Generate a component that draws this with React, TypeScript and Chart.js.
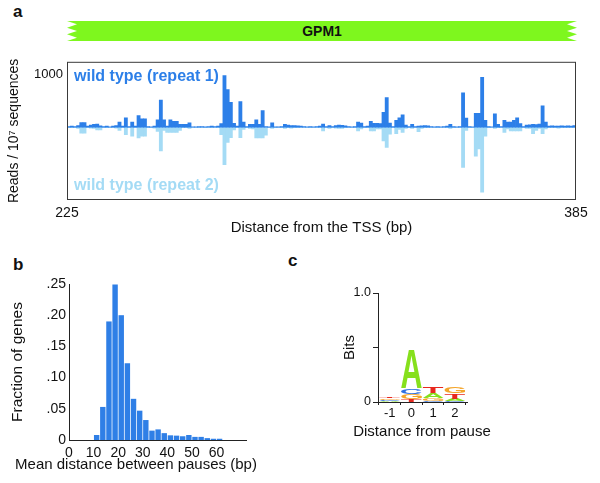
import React, { useEffect, useRef } from "react";
import { Chart, registerables } from "chart.js";
Chart.register(...registerables);

const FONT = "'Liberation Sans', Arial, Helvetica, sans-serif";
const DARK_BLUE = "#2c7fe8";
const LIGHT_BLUE = "#a4dbf5";
const TEXT = "#111111";

// ---------- Panel a: reads per position (225..384) ----------
const tssRange = [225, 385];
const tssTickLabels = [225, 385];
const yATicks = [1000];
const repeat1 = [
  15, 20, 15, 30, 90, 90, 20, 40, 55, 60, 25, 15, 20, 10, 20, 30, 100, 20, 180, 15,
  100, 20, 220, 160, 160, 15, 10, 20, 140, 515, 140, 20, 140, 110, 110, 55, 55, 55, 85, 10,
  10, 15, 15, 10, 15, 20, 15, 20, 70, 980, 715, 470, 75, 20, 485, 100, 15, 55, 55, 140,
  55, 315, 15, 10, 85, 10, 10, 15, 55, 40, 30, 30, 25, 20, 15, 10, 15, 10, 15, 20,
  60, 15, 30, 15, 30, 40, 35, 25, 15, 10, 15, 100, 80, 15, 20, 110, 75, 75, 70, 285,
  560, 80, 15, 130, 180, 235, 40, 15, 55, 15, 20, 25, 30, 25, 15, 10, 15, 10, 15, 20,
  55, 15, 10, 15, 650, 175, 15, 10, 265, 265, 945, 130, 15, 10, 255, 55, 15, 130, 100, 100,
  130, 180, 70, 15, 40, 45, 55, 50, 60, 405, 100, 20, 25, 20, 20, 25, 20, 25, 20, 30,
];
const repeat2 = [
  10, 10, 10, 20, 110, 110, 10, 15, 20, 50, 50, 10, 10, 5, 10, 15, 60, 10, 140, 10,
  170, 10, 200, 170, 170, 10, 10, 15, 80, 450, 60, 100, 100, 100, 100, 60, 10, 10, 20, 5,
  5, 10, 5, 10, 5, 10, 5, 10, 140, 710, 285, 195, 50, 10, 195, 40, 10, 20, 30, 200,
  200, 200, 150, 10, 20, 10, 5, 10, 20, 10, 15, 10, 10, 5, 5, 5, 10, 5, 5, 10,
  70, 10, 20, 10, 15, 20, 20, 10, 5, 5, 10, 70, 30, 10, 10, 70, 70, 30, 30, 260,
  380, 130, 10, 120, 40, 100, 20, 10, 20, 10, 85, 20, 10, 10, 5, 5, 10, 5, 5, 10,
  20, 10, 5, 10, 760, 60, 10, 10, 550, 410, 1230, 170, 10, 5, 20, 10, 10, 100, 30, 70,
  70, 70, 70, 10, 20, 20, 120, 60, 20, 120, 30, 10, 10, 10, 15, 10, 10, 10, 10, 10,
];
const positions: number[] = [];
for (let p = tssRange[0]; p < tssRange[1]; p++) positions.push(p);

// ---------- Panel b: histogram ----------
const binStarts = [10, 12.5, 15, 17.5, 20, 22.5, 25, 27.5, 30, 32.5, 35, 37.5, 40, 42.5, 45, 47.5, 50, 52.5, 55, 57.5, 60];
const binWidth = 2.5;
const fractionOfGenes = [0.008, 0.053, 0.19, 0.249, 0.2, 0.123, 0.066, 0.047, 0.032, 0.015, 0.017, 0.011, 0.0075, 0.007, 0.006, 0.008, 0.005, 0.005, 0.003, 0.002, 0.002];
const histXTicks = [0, 10, 20, 30, 40, 50, 60];
const histYTicks = [0, 0.05, 0.1, 0.15, 0.2, 0.25];
const histYLabels = ["0", ".05", ".10", ".15", ".20", ".25"];

// ---------- Panel c: sequence logo ----------
const logoPositions = [-1, 0, 1, 2];
const logoLetters = ["A", "C", "G", "T"];
const logoColors = ["#86e01c", "#2d6fe0", "#f4a52a", "#e8281e"];
const bitsA = [0.01, 0.36, 0.046, 0.02];
const bitsC = [0.012, 0.052, 0.012, 0.012];
const bitsG = [0.012, 0.046, 0.025, 0.059];
const bitsT = [0.012, 0.028, 0.061, 0.05];
const logoYTicks = [0, 0.5, 1];
const logoYLabels = ["0", "", "1.0"];

const framePlugin = {
  id: "frame",
  afterDraw(chart: any) {
    const { ctx, chartArea: a } = chart;
    ctx.save();
    ctx.strokeStyle = "#3a3a3a";
    ctx.lineWidth = 1;
    ctx.strokeRect(a.left + 0.5, a.top + 0.5, a.right - a.left - 1, a.bottom - a.top - 1);
    ctx.restore();
  },
};

const seriesLabelPlugin = {
  id: "seriesLabels",
  afterDatasetsDraw(chart: any) {
    const { ctx, chartArea: a } = chart;
    ctx.save();
    ctx.font = `bold 16px ${FONT}`;
    ctx.textBaseline = "middle";
    ctx.textAlign = "left";
    ctx.fillStyle = DARK_BLUE;
    ctx.fillText(chart.data.datasets[0].label, a.left + 7, a.top + 15);
    ctx.fillStyle = LIGHT_BLUE;
    ctx.fillText(chart.data.datasets[1].label, a.left + 7, a.bottom - 14);
    ctx.restore();
  },
};

function drawLetter(ctx: CanvasRenderingContext2D, L: string, x: number, yBottom: number, w: number, h: number, color: string) {
  if (h <= 0.2) return;
  ctx.save();
  ctx.font = `bold 100px ${FONT}`;
  const m = ctx.measureText(L);
  const gw = m.actualBoundingBoxLeft + m.actualBoundingBoxRight;
  const gh = m.actualBoundingBoxAscent + m.actualBoundingBoxDescent;
  ctx.translate(x, yBottom);
  ctx.scale(w / gw, h / gh);
  ctx.fillStyle = color;
  ctx.textBaseline = "alphabetic";
  ctx.textAlign = "left";
  ctx.fillText(L, m.actualBoundingBoxLeft, -m.actualBoundingBoxDescent);
  ctx.restore();
}

const logoPlugin = {
  id: "logo",
  afterDatasetsDraw(chart: any) {
    const { ctx } = chart;
    const xs = chart.scales.x;
    const ys = chart.scales.y;
    const ds = chart.data.datasets;
    logoPositions.forEach((p, i) => {
      const stack = ds
        .map((d: any, k: number) => ({ L: logoLetters[k], h: d.data[i].y, color: logoColors[k] }))
        .sort((a: any, b: any) => a.h - b.h);
      const cx = xs.getPixelForValue(p);
      const w = (xs.getPixelForValue(p + 0.5) - xs.getPixelForValue(p - 0.5)) * 0.95;
      let base = 0;
      stack.forEach((s: any) => {
        const y0 = ys.getPixelForValue(base);
        const y1 = ys.getPixelForValue(base + s.h);
        drawLetter(ctx, s.L, cx - w / 2, y0, w, y0 - y1, s.color);
        base += s.h;
      });
    });
  },
};

const noPlugins = { legend: { display: false }, tooltip: { enabled: false } };

function configA(): any {
  return {
    type: "bar",
    data: {
      datasets: [
        {
          label: "wild type (repeat 1)",
          data: positions.map((p, i) => ({ x: p + 0.5, y: repeat1[i] })),
          backgroundColor: DARK_BLUE,
          grouped: false,
          barPercentage: 1,
          categoryPercentage: 1,
          borderWidth: 0,
        },
        {
          label: "wild type (repeat 2)",
          data: positions.map((p, i) => ({ x: p + 0.5, y: -repeat2[i] })),
          backgroundColor: LIGHT_BLUE,
          grouped: false,
          barPercentage: 1,
          categoryPercentage: 1,
          borderWidth: 0,
        },
      ],
    },
    options: {
      responsive: false,
      animation: false,
      layout: { padding: { top: 6, right: 24, left: 0, bottom: 0 } },
      plugins: noPlugins,
      scales: {
        x: {
          type: "linear",
          offset: false,
          min: tssRange[0],
          max: tssRange[1],
          afterFit(s: any) { s.height = 40; },
          afterBuildTicks(s: any) { s.ticks = tssTickLabels.map((v) => ({ value: v })); },
          grid: { display: false, drawTicks: false },
          border: { display: false },
          ticks: { font: { family: FONT, size: 14 }, color: TEXT, padding: 5, maxRotation: 0, autoSkip: false, callback: (v: number) => String(v) },
          title: { display: true, text: "Distance from the TSS (bp)", font: { family: FONT, size: 15 }, color: TEXT, padding: { top: 0, bottom: 3 } },
        },
        y: {
          min: -1378,
          max: 1240,
          afterFit(s: any) { s.width = 67; },
          afterBuildTicks(s: any) { s.ticks = yATicks.map((v) => ({ value: v })); },
          grid: { display: false, drawTicks: false },
          border: { display: false },
          ticks: { font: { family: FONT, size: 13 }, color: TEXT, padding: 4, callback: (v: number) => String(v) },
          title: { display: true, text: "Reads / 10\u2077 sequences", font: { family: FONT, size: 14 }, color: TEXT, padding: { top: 6, bottom: 0 } },
        },
      },
    },
    plugins: [framePlugin, seriesLabelPlugin],
  };
}

function configB(): any {
  return {
    type: "bar",
    data: {
      datasets: [
        {
          data: binStarts.map((b, i) => ({ x: b + binWidth / 2, y: fractionOfGenes[i] })),
          backgroundColor: "#2f7fe6",
          barPercentage: 0.88,
          categoryPercentage: 1,
          borderWidth: 0,
        },
      ],
    },
    options: {
      responsive: false,
      animation: false,
      layout: { padding: { top: 34, right: 54, left: 0, bottom: 0 } },
      plugins: noPlugins,
      scales: {
        x: {
          type: "linear",
          offset: false,
          min: 0,
          max: 72,
          afterFit(s: any) { s.height = 43; },
          afterBuildTicks(s: any) { s.ticks = histXTicks.map((v) => ({ value: v })); },
          grid: { display: false, drawTicks: false },
          border: { display: true, color: "#222", width: 1 },
          ticks: { font: { family: FONT, size: 14 }, color: TEXT, padding: 5, maxRotation: 0, autoSkip: false },
        },
        y: {
          min: 0,
          max: 0.25,
          afterFit(s: any) { s.width = 69; },
          afterBuildTicks(s: any) { s.ticks = histYTicks.map((v) => ({ value: v })); },
          grid: { display: false, drawTicks: false },
          border: { display: true, color: "#222", width: 1 },
          ticks: {
            font: { family: FONT, size: 14 },
            color: TEXT,
            padding: 3,
            callback: (v: number) => {
              const i = histYTicks.findIndex((t) => Math.abs(t - v) < 1e-9);
              return i >= 0 ? histYLabels[i] : "";
            },
          },
          title: { display: true, text: "Fraction of genes", font: { family: FONT, size: 15.5 }, color: TEXT, padding: { top: 8, bottom: 0 } },
        },
      },
    },
  };
}

function configC(): any {
  const sets = [bitsA, bitsC, bitsG, bitsT];
  return {
    type: "bar",
    data: {
      datasets: sets.map((arr, k) => ({
        label: logoLetters[k],
        data: logoPositions.map((p, i) => ({ x: p, y: arr[i] })),
        backgroundColor: "rgba(0,0,0,0)",
        borderWidth: 0,
      })),
    },
    options: {
      responsive: false,
      animation: false,
      layout: { padding: { top: 43, right: 23, left: 0, bottom: 0 } },
      plugins: noPlugins,
      scales: {
        x: {
          type: "linear",
          offset: false,
          min: -1.54,
          max: 2.56,
          afterFit(s: any) { s.height = 48; },
          afterBuildTicks(s: any) { s.ticks = logoPositions.map((v) => ({ value: v })); },
          grid: { display: true, drawOnChartArea: false, drawTicks: true, tickLength: 3, color: "#222" },
          border: { display: true, color: "#222", width: 1 },
          ticks: { font: { family: FONT, size: 13 }, color: TEXT, padding: 1, maxRotation: 0, autoSkip: false },
        },
        y: {
          min: 0,
          max: 1,
          afterFit(s: any) { s.width = 48; },
          afterBuildTicks(s: any) { s.ticks = logoYTicks.map((v) => ({ value: v })); },
          grid: { display: true, drawOnChartArea: false, drawTicks: true, tickLength: 5, color: "#222" },
          border: { display: true, color: "#222", width: 1 },
          ticks: {
            font: { family: FONT, size: 12.5 },
            color: TEXT,
            padding: 2,
            callback: (v: number) => {
              const i = logoYTicks.findIndex((t) => Math.abs(t - v) < 1e-9);
              return i >= 0 ? logoYLabels[i] : "";
            },
          },
          title: { display: true, text: "Bits", font: { family: FONT, size: 15 }, color: TEXT, padding: { top: 11, bottom: 0 } },
        },
      },
    },
    plugins: [logoPlugin],
  };
}

const abs = (left: number, top: number, extra: any = {}) => ({ position: "absolute" as const, left, top, ...extra });

export default function App() {
  const refA = useRef<HTMLCanvasElement>(null);
  const refB = useRef<HTMLCanvasElement>(null);
  const refC = useRef<HTMLCanvasElement>(null);

  useEffect(() => {
    const charts = [
      new Chart(refA.current!, configA()),
      new Chart(refB.current!, configB()),
      new Chart(refC.current!, configC()),
    ];
    return () => charts.forEach((c) => c.destroy());
  }, []);

  const panelLabel = { font: `bold 17px ${FONT}`, lineHeight: "17px", color: TEXT };
  const bandTop = 21;
  const bandBot = 41;
  const bl = 67;
  const br = 577;
  const d = 10;
  const h3 = (bandBot - bandTop) / 3;
  const bandPoints = [
    [bl, bandTop], [br, bandTop],
    [br - d, bandTop + h3 * 0.5], [br, bandTop + h3], [br - d, bandTop + h3 * 1.5], [br, bandTop + h3 * 2], [br - d, bandTop + h3 * 2.5], [br, bandBot],
    [bl, bandBot],
    [bl + d, bandTop + h3 * 2.5], [bl, bandTop + h3 * 2], [bl + d, bandTop + h3 * 1.5], [bl, bandTop + h3], [bl + d, bandTop + h3 * 0.5],
  ].map((p) => p.join(",")).join(" ");

  return (
    <div style={{ position: "fixed", left: 0, top: 0, width: 600, height: 483, background: "#fff", overflow: "hidden", fontFamily: FONT }}>
      <div style={{ ...abs(13, 3), ...panelLabel }}>a</div>
      <div style={{ ...abs(13, 256), ...panelLabel }}>b</div>
      <div style={{ ...abs(288, 252), ...panelLabel }}>c</div>
      <svg style={abs(0, 0)} width={600} height={50}>
        <polygon points={bandPoints} fill="#7ef71e" />
        <text x={322} y={36} textAnchor="middle" fontFamily={FONT} fontWeight="bold" fontSize={14} fill={TEXT}>GPM1</text>
      </svg>
      <canvas ref={refA} width={600} height={190} style={abs(0, 50, { width: 600, height: 190 })} />
      <canvas ref={refB} width={300} height={233} style={abs(0, 250, { width: 300, height: 233 })} />
      <canvas ref={refC} width={160} height={200} style={abs(330, 250, { width: 160, height: 200 })} />
      <div style={{ ...abs(-14, 456, { width: 300, textAlign: "center" }), font: `15px ${FONT}`, lineHeight: "15px", color: TEXT }}>
        Mean distance between pauses (bp)
      </div>
      <div style={{ ...abs(322, 423, { width: 200, textAlign: "center" }), font: `15px ${FONT}`, lineHeight: "15px", color: TEXT }}>
        Distance from pause
      </div>
    </div>
  );
}
